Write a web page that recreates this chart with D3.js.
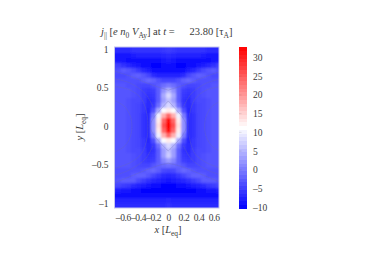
<!DOCTYPE html>
<html>
<head>
<meta charset="utf-8">
<script src="https://cdn.jsdelivr.net/npm/d3@7"></script>
<style>
body { margin: 0; background: #fff; }
svg { display: block; }
text { font-family: "Liberation Serif", serif; fill: #3a3a3a; }
</style>
</head>
<body>
<svg id="viz" width="375" height="266"></svg>
<script>
// tick labels
var xTicks = [-0.6, -0.4, -0.2, 0, 0.2, 0.4, 0.6];
var yTicks = [-1, -0.5, 0, 0.5, 1];
var barTicks = [-10, -5, 0, 5, 10, 15, 20, 25, 30];

// grid positions, x is mirrored around 0
var gridX = [0, 0.066, 0.132, 0.197, 0.263, 0.329, 0.395, 0.461, 0.526, 0.592, 0.658, 0.724];
var gridY = [0.99, 0.925, 0.86, 0.795, 0.73, 0.665, 0.6, 0.535, 0.47, 0.405, 0.34, 0.275, 0.21, 0.145, 0.08, 0.015,
    -0.05, -0.115, -0.18, -0.245, -0.31, -0.375, -0.44, -0.505, -0.57, -0.635, -0.7, -0.765, -0.83, -0.895, -0.96, -1.025];

// current density, one row per gridY, one column per gridX
var current = [
    [-5, -5.5, -6, -6, -6, -6, -6, -6, -6.5, -6.5, -6.5, -6.5],
    [-6.5, -7, -7.5, -7.5, -7.5, -7.5, -7.5, -8, -8.5, -8.5, -8.5, -8.5],
    [-8, -8.5, -9, -9, -9, -9, -9, -9, -9, -8.5, -8.5, -8],
    [-9, -9.5, -10, -10, -9.5, -9, -8.5, -8, -7, -6, -5, -4.5],
    [-9, -9.5, -9.5, -9, -8, -7, -5.5, -4, -3, -2.5, -3.5, -4],
    [-7.5, -7.5, -7.5, -6.5, -4.5, -3, -2, -2.5, -3.5, -4, -4, -4],
    [-4.5, -4.5, -3.5, -2, -1.5, -2.5, -3.5, -3.5, -3.5, -3.5, -3.5, -3.5],
    [0, -1, -2.5, -3.5, -4.5, -4.5, -4, -3.5, -3.5, -3, -3, -3],
    [5, 2, -2.5, -5, -5.5, -5, -4, -3.5, -3, -3, -3, -3],
    [8, 4, -2.5, -5.5, -6, -5, -4, -3.5, -3, -3, -3, -3],
    [6, 3, -2.5, -6, -6.5, -5, -4, -4, -3.5, -3, -3, -3],
    [8, 5, -1, -5.5, -6.5, -5.5, -4.5, -4, -3.5, -3, -3, -3],
    [13, 11, 4, -3.5, -7, -5.5, -4.5, -4, -3.5, -3, -3, -3],
    [24, 18, 10, 0, -6.5, -6, -4.5, -4, -3.5, -3, -3, -3],
    [32, 24, 13, 2, -6.5, -6, -4.5, -4, -3.5, -3, -3, -3],
    [33, 26, 14, 2, -6.5, -6, -4.5, -4, -3.5, -3, -3, -3],
    [32, 24, 13, 2, -6.5, -6, -4.5, -4, -3.5, -3, -3, -3],
    [24, 18, 10, 0, -6.5, -6, -4.5, -4, -3.5, -3, -3, -3],
    [13, 11, 4, -3.5, -7, -5.5, -4.5, -4, -3.5, -3, -3, -3],
    [8, 5, -1, -5.5, -6.5, -5.5, -4.5, -4, -3.5, -3, -3, -3],
    [6, 3, -2.5, -6, -6.5, -5, -4, -4, -3.5, -3, -3, -3],
    [7, 3, -2.5, -5.5, -6, -5, -4, -3.5, -3, -3, -3, -3],
    [3, 1, -2.5, -5, -5.5, -5, -4, -3.5, -3, -3, -3, -3],
    [-1, -1.5, -2, -3, -4.5, -4.5, -4, -3.5, -3, -3, -3, -3],
    [-4.5, -4, -2.5, -1.5, -2, -3, -3.5, -3.5, -3.5, -3.5, -3.5, -3.5],
    [-7, -6.5, -5.5, -4.5, -3, -2, -2, -2.5, -3.5, -3.5, -3.5, -3.5],
    [-8.5, -8, -7.5, -7, -6, -5, -4, -2.5, -2.5, -2.5, -3, -3.5],
    [-10, -10, -9.5, -9, -8.5, -8, -7.5, -6.5, -5.5, -5, -4.5, -4],
    [-10, -10, -10, -10, -10, -10, -9.5, -9, -8.5, -8.5, -8, -7.5],
    [-9, -9.5, -9.5, -9.5, -9.5, -9.5, -9.5, -9.5, -9.5, -9.5, -9.5, -9.5],
    [-7, -7.5, -7.5, -7.5, -7.5, -7.5, -7.5, -7.5, -7.5, -7.5, -7.5, -7.5],
    [-6, -6.5, -6.5, -6.5, -6.5, -6.5, -6.5, -6.5, -6.5, -6.5, -6.5, -6.5]
];

// flux contours, [x, y] with x >= 0, mirrored when drawn
var contours = [
    [[0, 0.33], [0.1, 0.22], [0.2, 0.1], [0.24, 0], [0.2, -0.1], [0.1, -0.22], [0, -0.32]],
    [[0.72, 0.52], [0.5, 0.47], [0.35, 0.35], [0.28, 0.15], [0.27, 0], [0.28, -0.15], [0.35, -0.35], [0.5, -0.47], [0.72, -0.55]],
    [[0.72, 0.34], [0.58, 0.26], [0.5, 0.13], [0.48, 0], [0.5, -0.13], [0.58, -0.26], [0.72, -0.34]],
    [[0.72, 0.72], [0.5, 0.65], [0.25, 0.55], [0.1, 0.5], [0, 0.47]],
    [[0.72, -0.74], [0.5, -0.65], [0.25, -0.55], [0.1, -0.5], [0, -0.48]],
    [[0.72, 0.62], [0.5, 0.56], [0.3, 0.42], [0.2, 0.25]],
    [[0.72, -0.64], [0.5, -0.56], [0.3, -0.42], [0.2, -0.25]]
];

var barDomain = [-10.2, 32.8];

var svg = d3.select('svg#viz');

var x = d3.scaleLinear().domain([-0.71, 0.67]).range([114.5, 219]);
var y = d3.scaleLinear().domain([-1.06, 1.03]).range([208, 47]);
var barY = d3.scaleLinear().domain(barDomain).range([208, 47]);
var color = d3.scaleLinear()
    .domain([barDomain[0], (barDomain[0] + barDomain[1]) / 2, barDomain[1]])
    .range(['#0000ff', '#ffffff', '#ff0000'])
    .clamp(true);

var minus = function(s) { return String(s).replace('-', '\u2013'); };

var defs = svg.append('defs');
defs.append('clipPath').attr('id', 'plotclip').append('rect')
    .attr('x', 114.5).attr('y', 47).attr('width', 104.5).attr('height', 161);
defs.append('filter').attr('id', 'soft')
    .attr('filterUnits', 'userSpaceOnUse')
    .attr('x', 90).attr('y', 20).attr('width', 160).attr('height', 215)
    .append('feGaussianBlur').attr('stdDeviation', 1.3);

// flatten the half grid into cells on both sides of x = 0
var cells = [];
current.forEach(function(row, i) {
    row.forEach(function(v, k) {
        cells.push({ x: gridX[k], y: gridY[i], v: v, i: i });
        if (k > 0) cells.push({ x: -gridX[k], y: gridY[i], v: v, i: i });
    });
});

var cellW = x(gridX[1]) - x(gridX[0]);
var cellH = y(gridY[1]) - y(gridY[0]);

var plot = svg.append('g').attr('clip-path', 'url(#plotclip)');
plot.append('g')
    .attr('filter', 'url(#soft)')
    .selectAll('rect')
    .data(cells)
    .enter().append('rect')
    .attr('x', function(d) { return x(d.x) - cellW / 2; })
    .attr('y', function(d) { return y(d.y) - cellH / 2 - (d.i === 0 ? 6 : 0); })
    .attr('width', cellW + 0.5)
    .attr('height', function(d) { return cellH + 0.5 + ((d.i === 0 || d.i === current.length - 1) ? 6 : 0); })
    .attr('fill', function(d) { return color(d.v); })
    .attr('shape-rendering', 'crispEdges');

var line = d3.line().curve(d3.curveCatmullRom);
[1, -1].forEach(function(side) {
    plot.append('g').selectAll('path')
        .data(contours)
        .enter().append('path')
        .attr('d', function(c) {
            return line(c.map(function(p) { return [x(side * p[0]), y(p[1])]; }));
        })
        .attr('fill', 'none')
        .attr('stroke', '#6a6ab0')
        .attr('stroke-opacity', 0.5)
        .attr('stroke-width', 0.6);
});

// frame
svg.append('rect')
    .attr('x', 114.5).attr('y', 47).attr('width', 104.5).attr('height', 161)
    .attr('fill', 'none')
    .attr('stroke', '#c4c4ee')
    .attr('stroke-width', 1);

// axes
var xAxis = d3.axisBottom(x).tickValues(xTicks).tickSize(0).tickPadding(6).tickFormat(minus);
var yAxis = d3.axisLeft(y).tickValues(yTicks).tickSize(0).tickPadding(6).tickFormat(minus);
var gx = svg.append('g').attr('transform', 'translate(0,208)').call(xAxis);
var gy = svg.append('g').attr('transform', 'translate(114.5,0)').call(yAxis);
gx.select('.domain').remove();
gy.select('.domain').remove();
gx.selectAll('text').style('font-family', '"Liberation Serif", serif').style('font-size', '9.5px').style('letter-spacing', '-0.4px');
gy.selectAll('text').style('font-family', '"Liberation Serif", serif').style('font-size', '9.5px');

// colorbar
var barSteps = d3.range(barDomain[0], barDomain[1], 1);
svg.append('g').selectAll('rect')
    .data(barSteps)
    .enter().append('rect')
    .attr('x', 239)
    .attr('width', 8)
    .attr('y', function(d) { return barY(d + 1); })
    .attr('height', function(d) { return barY(d) - barY(d + 1) + 0.5; })
    .attr('fill', function(d) { return color(d + 0.5); })
    .attr('shape-rendering', 'crispEdges');

var barAxis = d3.axisRight(barY).tickValues(barTicks).tickSize(0).tickPadding(6).tickFormat(minus);
var gb = svg.append('g').attr('transform', 'translate(247,0)').call(barAxis);
gb.select('.domain').remove();
gb.selectAll('text').style('font-family', '"Liberation Serif", serif').style('font-size', '9.5px');

svg.append('g').selectAll('line')
    .data(barTicks)
    .enter().append('line')
    .attr('x1', 239).attr('x2', 241.5)
    .attr('y1', function(d) { return barY(d); })
    .attr('y2', function(d) { return barY(d); })
    .attr('stroke', '#555')
    .attr('stroke-opacity', 0.3)
    .attr('stroke-width', 0.5);

// title and labels with sub scripts
function label(parent, parts) {
    parts.forEach(function(p) {
        var t = parent.append('tspan').text(p.t);
        if (p.i) t.style('font-style', 'italic');
        if (p.sub) t.style('font-size', '7.5px').attr('dy', 2.5);
        if (p.up) t.attr('dy', -2.5);
    });
}

var title = svg.append('text').attr('x', 101).attr('y', 35).style('font-size', '10.5px');
label(title, [
    { t: 'j', i: true }, { t: '||', sub: true }, { t: ' [', up: true }, { t: 'e n', i: true }, { t: '0', sub: true },
    { t: ' V', i: true, up: true }, { t: 'Ay', sub: true }, { t: '] at ', up: true }, { t: 't', i: true }, { t: ' =' }
]);
var title2 = svg.append('text').attr('x', 189.5).attr('y', 35).style('font-size', '10.5px');
label(title2, [{ t: '23.80 [\u03c4' }, { t: 'A', sub: true }, { t: ']', up: true }]);

var xLabel = svg.append('text').attr('x', 168).attr('y', 233).attr('text-anchor', 'middle').style('font-size', '10.5px');
label(xLabel, [{ t: 'x', i: true }, { t: ' [' }, { t: 'L', i: true }, { t: 'eq', sub: true }, { t: ']', up: true }]);

var yLabel = svg.append('text').attr('transform', 'translate(83,127) rotate(-90)').attr('text-anchor', 'middle').style('font-size', '10.5px');
label(yLabel, [{ t: 'y', i: true }, { t: ' [' }, { t: 'L', i: true }, { t: 'eq', sub: true }, { t: ']', up: true }]);
</script>
</body>
</html>
